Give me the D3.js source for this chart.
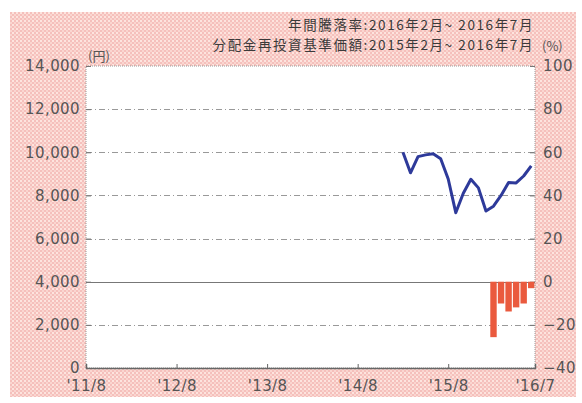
<!DOCTYPE html>
<html>
<head>
<meta charset="utf-8">
<script src="https://cdn.jsdelivr.net/npm/d3@7"></script>
<style>
  body { margin: 0; background: #fff; }
  svg text { font-family: "DejaVu Sans", "Noto Sans CJK JP", sans-serif; }
  svg text.jp { font-family: "Noto Sans CJK JP", sans-serif; }
</style>
</head>
<body>
<svg id="chart" width="582" height="403"></svg>
<script>
// data
var navMonths = ["2015-02", "2015-03", "2015-04", "2015-05", "2015-06", "2015-07",
  "2015-08", "2015-09", "2015-10", "2015-11", "2015-12", "2016-01",
  "2016-02", "2016-03", "2016-04", "2016-05", "2016-06", "2016-07"];
var navValues = [10000, 9050, 9800, 9880, 9930, 9700,
  8760, 7200, 8100, 8750, 8350, 7280,
  7500, 8000, 8600, 8580, 8900, 9370];

var retMonths = ["2016-02", "2016-03", "2016-04", "2016-05", "2016-06", "2016-07"];
var retValues = [-25.7, -10.1, -13.8, -11.9, -10.1, -3.0];

var xTickMonths = ["2011-08", "2012-08", "2013-08", "2014-08", "2015-08", "2016-07"];
var xTickLabels = ["'11/8", "'12/8", "'13/8", "'14/8", "'15/8", "'16/7"];
var leftTicks = [0, 2000, 4000, 6000, 8000, 10000, 12000, 14000];
var rightTicks = [-40, -20, 0, 20, 40, 60, 80, 100];

var titleLines = ["年間騰落率:2016年2月~ 2016年7月", "分配金再投資基準価額:2015年2月~ 2016年7月"];

var svgContainer = d3.select("#chart");

var margin = { top: 66, right: 47, bottom: 34, left: 86 },
  width = 582 - margin.left - margin.right,
  height = 403 - margin.top - margin.bottom - 1;

// month index counted from 2011/8
function monthIndex(s) {
  var p = s.split("-");
  return (+p[0] - 2011) * 12 + (+p[1] - 8);
}

// background pattern
var defs = svgContainer.append("defs");
var pat = defs.append("pattern")
  .attr("id", "pinkdots")
  .attr("width", 4)
  .attr("height", 4)
  .attr("patternUnits", "userSpaceOnUse");
pat.append("rect").attr("width", 4).attr("height", 4).attr("fill", "#f5c0bc");
pat.append("rect").attr("x", 0).attr("y", 0).attr("width", 2).attr("height", 2).attr("fill", "#fde4de");
pat.append("rect").attr("x", 2).attr("y", 2).attr("width", 2).attr("height", 2).attr("fill", "#fad6d0");

svgContainer.append("rect")
  .attr("x", 10)
  .attr("y", 12)
  .attr("width", 566)
  .attr("height", 385)
  .attr("fill", "url(#pinkdots)");

var xScale = d3.scaleLinear().domain([0, 59.5]).range([0, width]);
var yLeft = d3.scaleLinear().domain([0, 14000]).range([height, 0]);
var yRight = d3.scaleLinear().domain([-40, 100]).range([height, 0]);

var chart = svgContainer.append("g")
  .attr("transform", "translate(" + margin.left + "," + margin.top + ")");

chart.append("rect")
  .attr("width", width)
  .attr("height", height)
  .attr("fill", "white")
  .attr("stroke", "#9a9a9a")
  .attr("stroke-width", 1)
  .attr("stroke-dasharray", "1,1");

// grid lines
chart.selectAll(".grid")
  .data(leftTicks.filter(function (d) { return d > 0 && d < 14000; }))
  .enter()
  .append("line")
  .attr("class", "grid")
  .attr("x1", 0)
  .attr("x2", width)
  .attr("y1", function (d) { return Math.round(yLeft(d)) + 0.5; })
  .attr("y2", function (d) { return Math.round(yLeft(d)) + 0.5; })
  .attr("stroke", function (d) { return d == 4000 ? "#777" : "#999"; })
  .attr("stroke-width", function (d) { return d == 4000 ? 1.2 : 1; })
  .attr("stroke-dasharray", function (d) { return d == 4000 ? null : "6,3,1,3"; });

// left axis
var leftAxis = d3.axisLeft(yLeft)
  .tickValues(leftTicks)
  .tickFormat(d3.format(","))
  .tickSize(-5)
  .tickPadding(6);
var la = chart.append("g").call(leftAxis);
la.select(".domain").remove();
la.selectAll(".tick line").attr("stroke", "#777");
la.selectAll(".tick text")
  .attr("fill", "#555")
  .style("font-size", "15px")
  .style("letter-spacing", "0.4px");

// right axis
var rightAxis = d3.axisRight(yRight)
  .tickValues(rightTicks)
  .tickSize(-5)
  .tickPadding(8);
var ra = chart.append("g")
  .attr("transform", "translate(" + width + ",0)")
  .call(rightAxis);
ra.select(".domain").remove();
ra.selectAll(".tick line").attr("stroke", "#777");
ra.selectAll(".tick text")
  .attr("fill", "#555")
  .style("font-size", "15px")
  .style("letter-spacing", "0.4px");

// bottom axis
var bottomAxis = d3.axisBottom(xScale)
  .tickValues(xTickMonths.map(function (m, i) { return i == xTickMonths.length - 1 ? 59.5 : monthIndex(m); }))
  .tickFormat(function (d, i) { return xTickLabels[i]; })
  .tickSize(-4)
  .tickPadding(12);
var ba = chart.append("g")
  .attr("transform", "translate(0," + height + ")")
  .call(bottomAxis);
ba.select(".domain").attr("stroke", "#666").attr("stroke-width", 1.5);
ba.selectAll(".tick line").attr("stroke", "#666");
ba.selectAll(".tick text")
  .attr("fill", "#555")
  .style("font-size", "15px")
  .style("letter-spacing", "0.4px");

// bars
chart.selectAll(".bar")
  .data(retValues)
  .enter()
  .append("rect")
  .attr("class", "bar")
  .attr("x", function (d, i) { return xScale(monthIndex(retMonths[i])) - 3.2; })
  .attr("y", yRight(0))
  .attr("width", 6.4)
  .attr("height", function (d) { return yRight(d) - yRight(0); })
  .attr("fill", "#ea5a3e");

// line
var line = d3.line()
  .x(function (d, i) { return xScale(monthIndex(navMonths[i])); })
  .y(function (d) { return yLeft(d); });

chart.append("path")
  .datum(navValues)
  .attr("fill", "none")
  .attr("stroke", "#2e3a9a")
  .attr("stroke-width", 3)
  .attr("stroke-linejoin", "round")
  .attr("d", line);

// unit labels
chart.append("text")
  .attr("class", "jp")
  .attr("x", 2)
  .attr("y", -5)
  .attr("fill", "#555")
  .style("font-size", "13px")
  .text("(円)");
chart.append("text")
  .attr("class", "jp")
  .attr("x", width + 7)
  .attr("y", -15)
  .attr("fill", "#555")
  .style("font-size", "13px")
  .text("(%)");

// title lines
svgContainer.selectAll(".title")
  .data(titleLines)
  .enter()
  .append("text")
  .attr("class", "title jp")
  .attr("x", 534)
  .attr("y", function (d, i) { return 30 + i * 20; })
  .attr("text-anchor", "end")
  .attr("fill", "#3a3a3a")
  .style("font-size", "13.5px")
  .style("letter-spacing", "1.6px")
  .text(function (d) { return d; });
</script>
</body>
</html>
